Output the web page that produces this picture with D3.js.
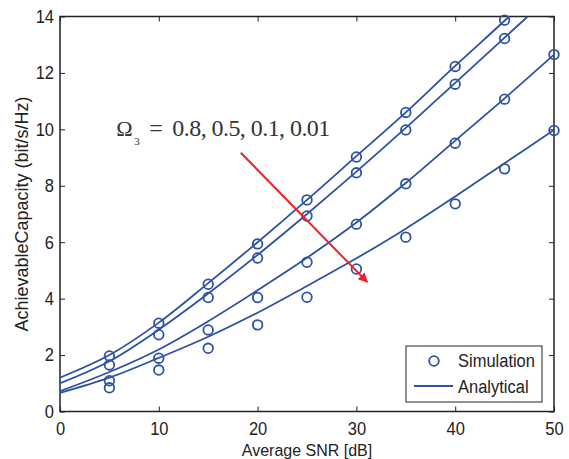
<!DOCTYPE html>
<html><head><meta charset="utf-8">
<script src="https://cdn.jsdelivr.net/npm/d3@7"></script>
<style>body{margin:0;background:#fff}svg{display:block}
.tall{transform-box:fill-box;transform-origin:center;transform:scaleY(1.1)}</style>
</head><body>
<script>
// ---- data ----
const lineX = [0,5,10,15,20,25,30,35,40,45,50];
const analytic1 = [1.2,2.0,3.15,4.55,6.0,7.5,9.05,10.6,12.25,13.85,15.5];
const analytic2 = [1.0,1.78,2.9,4.18,5.55,7.0,8.5,10.05,11.65,13.25,14.85];
const analytic3 = [0.72,1.4,2.2,3.2,4.3,5.45,6.7,8.1,9.6,11.1,12.65];
const analytic4 = [0.66,1.2,1.9,2.65,3.5,4.45,5.43,6.48,7.62,8.8,9.98];
const simX = [5,10,15,20,25,30,35,40,45,50];
const sim1 = [1.97,3.13,4.51,5.94,7.5,9.02,10.6,12.23,13.87];
const sim2 = [1.65,2.72,4.04,5.44,6.93,8.46,9.98,11.6,13.22];
const sim3 = [1.09,1.89,2.89,4.04,5.29,6.64,8.07,9.51,11.07,12.65];
const sim4 = [0.84,1.47,2.24,3.07,4.05,5.05,6.18,7.36,8.6,9.96];
const xTicks = [0,10,20,30,40,50];
const yTicks = [0,2,4,6,8,10,12,14];
const arrowFrom = [18.3,9.17];
const arrowTo = [31.1,4.59];
const labelPos = [5.7,9.75];
const legendLabels = ["Simulation","Analytical"];

const W=569,H=459;
const m={l:60,r:15,t:16.5,b:47.5};
const blue="#2d51a3", red="#ec2227";
const svg=d3.select("body").append("svg").attr("width",W).attr("height",H);
const x=d3.scaleLinear().domain([0,50]).range([m.l,W-m.r]);
const y=d3.scaleLinear().domain([0,14]).range([H-m.b,m.t]);

const defs=svg.append("defs");
defs.append("clipPath").attr("id","clip").append("rect")
  .attr("x",m.l).attr("y",m.t).attr("width",W-m.l-m.r).attr("height",H-m.t-m.b);
const mk=defs.append("marker").attr("id","ah").attr("viewBox","0 0 10 10")
  .attr("refX",9).attr("refY",5).attr("markerWidth",6).attr("markerHeight",4.8)
  .attr("orient","auto").attr("markerUnits","strokeWidth");
mk.append("path").attr("d","M0,0L10,5L0,10z").attr("fill",red);

// axes
const fontS="'Liberation Sans', Arial, sans-serif";
const ax=(g)=>{g.selectAll(".domain").remove();
  g.selectAll("text").attr("font-family",fontS).attr("font-size",16.5).attr("fill","#222").attr("class","tall");
  g.selectAll("line").attr("stroke","#222");};
svg.append("g").attr("transform",`translate(0,${H-m.b})`).call(d3.axisBottom(x).tickValues(xTicks).tickSizeInner(-5).tickSizeOuter(0).tickPadding(11)).call(ax);
svg.append("g").attr("transform",`translate(${m.l},0)`).call(d3.axisLeft(y).tickValues(yTicks).tickSizeInner(-5).tickSizeOuter(0).tickPadding(6)).call(ax);
svg.append("g").attr("transform",`translate(0,${m.t})`).call(d3.axisTop(x).tickValues(xTicks).tickSizeInner(-5).tickSizeOuter(0).tickFormat("")).call(ax);
svg.append("g").attr("transform",`translate(${W-m.r},0)`).call(d3.axisRight(y).tickValues(yTicks).tickSizeInner(-5).tickSizeOuter(0).tickFormat("")).call(ax);
svg.append("rect").attr("x",m.l).attr("y",m.t).attr("width",W-m.l-m.r).attr("height",H-m.t-m.b)
  .attr("fill","none").attr("stroke","#222").attr("stroke-width",1.5);

// lines
const line=d3.line().x((d,i)=>x(lineX[i])).y(d=>y(d)).curve(d3.curveCatmullRom.alpha(0.5));
[analytic1,analytic2,analytic3,analytic4].forEach(a=>{
  svg.append("path").attr("d",line(a)).attr("fill","none").attr("stroke",blue).attr("stroke-width",1.8).attr("clip-path","url(#clip)");
});
// sims
[sim1,sim2,sim3,sim4].forEach(s=>{
  svg.append("g").selectAll("circle").data(s).join("circle")
    .attr("cx",(d,i)=>x(simX[i])).attr("cy",d=>y(d)).attr("r",4.8)
    .attr("fill","none").attr("stroke",blue).attr("stroke-width",1.8);
});

// arrow
svg.append("line").attr("x1",x(arrowFrom[0])).attr("y1",y(arrowFrom[1]))
  .attr("x2",x(arrowTo[0])).attr("y2",y(arrowTo[1]))
  .attr("stroke",red).attr("stroke-width",2).attr("marker-end","url(#ah)");

// annotation
const ax0=x(labelPos[0]), ay0=y(labelPos[1]);
const serif="'Liberation Serif','Times New Roman',serif";
const ann=svg.append("g").attr("font-family",serif).attr("fill","#333");
ann.append("text").attr("x",ax0).attr("y",ay0).attr("font-size",22).text("Ω");
ann.append("text").attr("x",ax0+18).attr("y",ay0+9).attr("font-size",11).text("3");
ann.append("text").attr("x",ax0+33).attr("y",ay0).attr("font-size",24).text("=");
ann.append("text").attr("x",ax0+56).attr("y",ay0).attr("font-size",24)
  .attr("textLength",158).attr("lengthAdjust","spacing").text("0.8, 0.5, 0.1, 0.01");

// axis labels
svg.append("text").attr("x",(m.l+W-m.r)/2).attr("y",H-3).attr("text-anchor","middle")
  .attr("font-family",fontS).attr("font-size",16).attr("fill","#222").text("Average SNR [dB]");
svg.append("text").attr("transform",`translate(28,${(m.t+H-m.b)/2}) rotate(-90)`).attr("text-anchor","middle")
  .attr("font-family",fontS).attr("font-size",18).attr("fill","#222").text("AchievableCapacity (bit/s/Hz)");

// legend
const lg=svg.append("g");
lg.append("rect").attr("x",406).attr("y",346).attr("width",136).attr("height",56).attr("fill","#fff").attr("stroke","#222").attr("stroke-width",1);
lg.append("circle").attr("cx",434).attr("cy",361).attr("r",4.8).attr("fill","none").attr("stroke",blue).attr("stroke-width",1.8);
lg.append("line").attr("x1",414).attr("x2",453).attr("y1",386).attr("y2",386).attr("stroke",blue).attr("stroke-width",1.8);
lg.append("text").attr("x",458).attr("y",366).attr("font-family",fontS).attr("font-size",16.5).attr("fill","#222").attr("class","tall").text(legendLabels[0]);
lg.append("text").attr("x",458).attr("y",392).attr("font-family",fontS).attr("font-size",16.5).attr("fill","#222").attr("class","tall").text(legendLabels[1]);
</script>
</body></html>
